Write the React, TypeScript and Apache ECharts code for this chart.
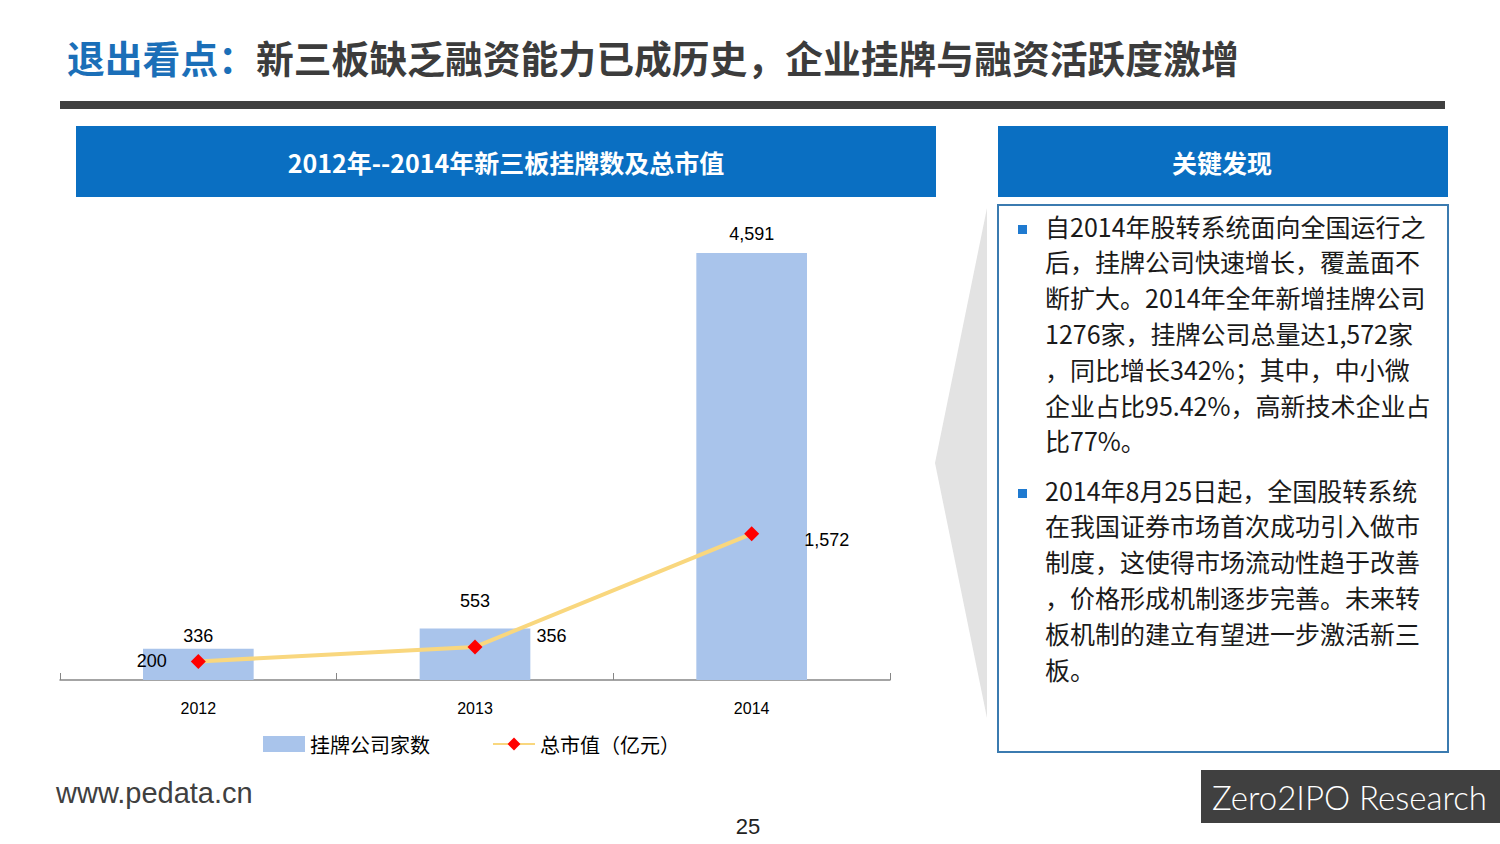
import React, { useEffect, useRef } from "react";
import * as echarts from "echarts";

const categories = ["2012", "2013", "2014"];
const barValues = [336, 553, 4591];
const lineValues = [200, 356, 1572];
const barName = "挂牌公司家数";
const lineName = "总市值（亿元）";

const titleBlue = "退出看点：";
const titleGray = "新三板缺乏融资能力已成历史，企业挂牌与融资活跃度激增";
const chartHeader = "2012年--2014年新三板挂牌数及总市值";
const findingsHeader = "关键发现";
const bullet1 = [
  "自2014年股转系统面向全国运行之",
  "后，挂牌公司快速增长，覆盖面不",
  "断扩大。2014年全年新增挂牌公司",
  "1276家，挂牌公司总量达1,572家",
  "，同比增长342%；其中，中小微",
  "企业占比95.42%，高新技术企业占",
  "比77%。",
];
const bullet2 = [
  "2014年8月25日起，全国股转系统",
  "在我国证券市场首次成功引入做市",
  "制度，这使得市场流动性趋于改善",
  "，价格形成机制逐步完善。未来转",
  "板机制的建立有望进一步激活新三",
  "板。",
];
const footerUrl = "www.pedata.cn";
const pageNum = "25";
const brand = "Zero2IPO Research";

const CJK = '"Noto Sans CJK SC", "Noto Sans", sans-serif';
const LAT = '"Liberation Sans", Arial, sans-serif';

const barLabelDist = [4, 19, 10];
const lineLabelCfg = [
  { position: "left", distance: 24, offset: [0, 0] },
  { position: "right", distance: 54, offset: [0, -11] },
  { position: "right", distance: 45, offset: [0, 6] },
];

export default function App() {
  const ref = useRef<HTMLDivElement>(null);
  useEffect(() => {
    if (!ref.current) return;
    const chart = echarts.init(ref.current, undefined, { renderer: "svg" });
    const fmt = (v: number) => v.toLocaleString("en-US");

    const bulletTexts: any[] = [];
    bullet1.forEach((t, i) => {
      bulletTexts.push({
        type: "text",
        left: 1045,
        top: 229 + i * 35.8 - 16,
        style: { text: t, font: `25px ${CJK}`, fill: "#1a1a1a" },
      });
    });
    bullet2.forEach((t, i) => {
      bulletTexts.push({
        type: "text",
        left: 1045,
        top: 493 + i * 35.8 - 16,
        style: { text: t, font: `25px ${CJK}`, fill: "#1a1a1a" },
      });
    });

    chart.setOption({
      animation: false,
      backgroundColor: "#ffffff",
      grid: { left: 60, right: 610, top: 215, bottom: 164, containLabel: false },
      xAxis: {
        type: "category",
        data: categories,
        boundaryGap: true,
        axisLine: { show: true, lineStyle: { color: "#868686", width: 1.5 } },
        axisTick: { show: true, inside: true, length: 7, lineStyle: { color: "#868686" } },
        axisLabel: { margin: 20, fontSize: 16, fontFamily: LAT, color: "#000" },
      },
      yAxis: {
        type: "value",
        min: 0,
        max: 5000,
        show: false,
        splitLine: { show: false },
      },
      legend: {
        left: 258,
        top: 729,
        itemGap: 62,
        textStyle: { fontSize: 20, fontFamily: CJK, color: "#000" },
        data: [
          { name: barName, icon: "rect", itemStyle: { color: "#a9c4eb" } },
          { name: lineName },
        ],
        itemWidth: 42,
        itemHeight: 16,
      },
      series: [
        {
          name: barName,
          type: "bar",
          barWidth: "40%",
          itemStyle: { color: "#a9c4eb" },
          data: barValues.map((v, i) => ({
            value: v,
            label: { distance: barLabelDist[i] },
          })),
          label: {
            show: true,
            position: "top",
            fontSize: 18,
            fontFamily: LAT,
            color: "#000",
            formatter: (p: any) => fmt(p.value),
          },
        },
        {
          name: lineName,
          type: "line",
          symbol: "diamond",
          symbolSize: 15,
          itemStyle: { color: "#ff0000" },
          lineStyle: { color: "#f9d77e", width: 4 },
          data: lineValues.map((v, i) => ({
            value: v,
            label: {
              position: lineLabelCfg[i].position,
              distance: lineLabelCfg[i].distance,
              offset: lineLabelCfg[i].offset,
            },
          })),
          label: {
            show: true,
            fontSize: 18,
            fontFamily: LAT,
            color: "#000",
            formatter: (p: any) => fmt(p.value),
          },
          z: 5,
        },
      ],
      graphic: [
        {
          type: "text",
          left: 67,
          top: 38,
          style: {
            text: `{a|${titleBlue}}{b|${titleGray}}`,
            rich: {
              a: { font: `bold 37.8px ${CJK}`, fill: "#1b6fb8" },
              b: { font: `bold 37.8px ${CJK}`, fill: "#3c3c3c" },
            },
          },
        },
        { type: "rect", shape: { x: 60, y: 101, width: 1385, height: 8 }, style: { fill: "#404040" } },
        { type: "rect", shape: { x: 76, y: 126, width: 860, height: 71 }, style: { fill: "#0a6fc2" } },
        {
          type: "text",
          x: 506,
          y: 162,
          style: {
            text: chartHeader,
            font: `bold 25px ${CJK}`,
            fill: "#ffffff",
            align: "center",
            verticalAlign: "middle",
          },
        },
        { type: "rect", shape: { x: 998, y: 126, width: 450, height: 71 }, style: { fill: "#0a6fc2" } },
        {
          type: "text",
          x: 1222,
          y: 162,
          style: {
            text: findingsHeader,
            font: `bold 25px ${CJK}`,
            fill: "#ffffff",
            align: "center",
            verticalAlign: "middle",
          },
        },
        {
          type: "polygon",
          shape: { points: [[987, 208], [935, 463], [987, 718]] },
          style: { fill: "#e3e3e3" },
        },
        {
          type: "rect",
          shape: { x: 998, y: 205, width: 450, height: 547 },
          style: { fill: "#ffffff", stroke: "#3b7bb0", lineWidth: 2 },
        },
        { type: "rect", shape: { x: 1018, y: 225, width: 9, height: 9 }, style: { fill: "#1f7ad0" } },
        { type: "rect", shape: { x: 1018, y: 489, width: 9, height: 9 }, style: { fill: "#1f7ad0" } },
        ...bulletTexts,
        {
          type: "text",
          left: 56,
          top: 778,
          style: { text: footerUrl, font: `29px ${LAT}`, fill: "#404040" },
        },
        {
          type: "text",
          x: 748,
          y: 826,
          style: {
            text: pageNum,
            font: `22px ${LAT}`,
            fill: "#222",
            align: "center",
            verticalAlign: "middle",
          },
        },
        { type: "rect", shape: { x: 1201, y: 770, width: 299, height: 53 }, style: { fill: "#404040" } },
        {
          type: "text",
          x: 1212,
          y: 797,
          style: {
            text: brand,
            font: `300 33px Lato, ${LAT}`,
            fill: "#ffffff",
            verticalAlign: "middle",
          },
        },
      ],
    });
    return () => chart.dispose();
  }, []);
  return (
    <div
      ref={ref}
      style={{ position: "fixed", left: 0, top: 0, width: 1500, height: 844 }}
    />
  );
}
